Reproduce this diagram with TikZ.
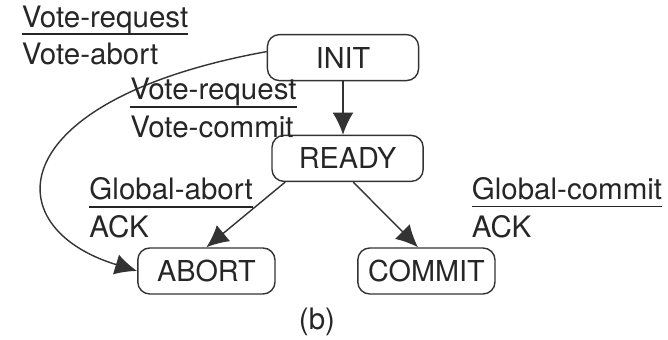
\documentclass[tikz,border=0pt]{standalone}
\usepackage{fontspec}
\setmainfont{TeX Gyre Heros}
\usetikzlibrary{arrows.meta}

\setlength{\arrayrulewidth}{1.2pt}
% 消息对：上面是收到的消息，下面是发出的消息
\newcommand{\msgpair}[2]{%
  \begin{tabular}[t]{@{}l@{}}#1\\[-3.4pt]\hline\noalign{\vskip 3.5pt}#2\end{tabular}}

\begin{document}
\begin{tikzpicture}[
    state/.style={draw=black!80, line width=1pt, rounded corners=0.3cm,
      minimum height=1.15cm, font=\fontsize{20.5}{24}\selectfont, text=black!85},
    msg/.style={anchor=base west, inner sep=0pt,
      font=\fontsize{21}{25.5}\selectfont, text=black!85},
    trans/.style={draw=black!80, line width=1pt,
      -{Latex[length=0.55cm,width=0.52cm]}}
  ]
    \useasboundingbox (0,0) rectangle (16.7,8.5);

    % 状态
    \node[state, minimum width=3.78cm] (init) at (8.575, 7.06) {INIT};
    \node[state, minimum width=3.78cm] (ready) at (8.69, 4.54) {READY};
    \node[state, minimum width=3.43cm] (abort) at (5.16, 1.725) {ABORT};
    \node[state, minimum width=3.43cm] (commit) at (10.66, 1.725) {COMMIT};

    % 状态转移
    \draw[trans] (init.south) -- (init.south |- ready.north);
    \draw[trans] ([xshift=-1.56cm]ready.south) -- (abort.north);
    \draw[trans] ([xshift=0.14cm]ready.south) -- ([xshift=-0.21cm]commit.north);
    \draw[trans] ([yshift=0.15cm]init.west)
        .. controls +(-6.6,-1.2) and +(-3.6,1.1) .. (abort.west);

    % 转移上的消息
    \node[msg] (m1) at (0.54, 7.82) {\msgpair{Vote-request}{Vote-abort}};
    \node[msg] (m2) at (3.25, 6.0) {\msgpair{Vote-request}{Vote-commit}};
    \node[msg] (m3) at (2.23, 3.5) {\msgpair{Global-abort}{ACK}};
    \node[msg] (m4) at (11.79, 3.51) {\msgpair{Global-commit}{ACK}};

    % 子图编号
    \node[font=\fontsize{21}{25}\selectfont, text=black!85] (cap) at (7.925, 0.45) {(b)};
\end{tikzpicture}
\end{document}
